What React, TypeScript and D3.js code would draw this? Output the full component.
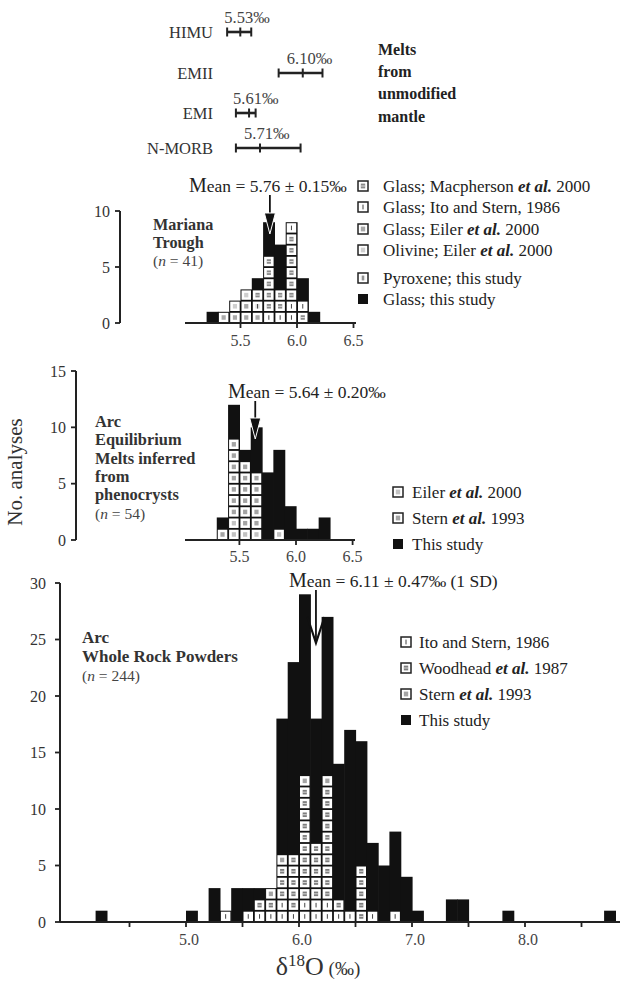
import React from 'react';
import * as d3 from 'd3';

const FONT = "'Liberation Serif', 'Times New Roman', Times, serif";

// ---------- Melts from unmodified mantle ----------
const mantleNames = ['HIMU', 'EMII', 'EMI', 'N-MORB'];
const mantleMeans = [5.53, 6.10, 5.61, 5.71];
const mantleLow = [5.41, 5.88, 5.49, 5.49];
const mantleHigh = [5.63, 6.28, 5.67, 6.08];

// ---------- Mariana Trough (n = 41) ----------
const marBins = [5.2, 5.3, 5.4, 5.5, 5.6, 5.7, 5.8, 5.9, 6.0, 6.1];
const marTotals = [1, 1, 2, 3, 4, 9, 7, 9, 4, 1];
// stacked non-"this study" cells, bottom-up: M Macpherson, I Ito&Stern, G Eiler glass, O Eiler olivine, P pyroxene
const marCells = ['', 'G', 'GO', 'GGO', 'GPM', 'IMMMMM', 'IMM', 'IIMMMMMMI', 'MI', ''];
const marMean = 5.76;

// ---------- Arc equilibrium melts (n = 54) ----------
const arcBins = [5.3, 5.4, 5.5, 5.6, 5.7, 5.8, 5.9, 6.0, 6.1, 6.2];
const arcTotals = [2, 12, 8, 10, 6, 8, 3, 1, 1, 2];
// E Eiler et al. 2000, S Stern et al. 1993
const arcCells = ['S', 'EESSSSSSS', 'ESSSSSS', 'ESSSSS', '', 'E', '', '', '', ''];
const arcMean = 5.64;

// ---------- Arc whole rock powders (n = 244) ----------
const wrBins = [4.2, 5.0, 5.2, 5.3, 5.4, 5.5, 5.6, 5.7, 5.8, 5.9, 6.0, 6.1, 6.2, 6.3, 6.4, 6.5, 6.6, 6.7, 6.8, 6.9, 7.0, 7.3, 7.4, 7.8, 8.7];
const wrTotals = [1, 1, 3, 1, 3, 3, 3, 3, 18, 23, 29, 18, 27, 14, 17, 16, 7, 5, 8, 4, 1, 2, 2, 1, 1];
// I Ito & Stern 1986, W Woodhead et al. 1987, S Stern et al. 1993
const wrCells = ['', '', '', 'I', '', 'I', 'IW', 'IWS', 'IIWWWS', 'IWWWWW', 'IIWWWWWWWWWWS', 'IIWWWWW', 'IIWWWWWWWWWWS', 'IW', 'I', 'WWWWW', 'I', '', 'I', '', '', '', '', '', ''];
const wrArrowAt = 6.15; // drawn position of mean arrow
const wrMeanLabel = 'ean = 6.11 ± 0.47‰ (1 SD)';

// tick labels
const smallTicks = [5.5, 6.0, 6.5];
const botLabelTicks = [5.0, 6.0, 7.0, 8.0];
const botMinorTicks = [4.5, 5.0, 5.5, 6.0, 6.5, 7.0, 7.5, 8.0, 8.5];
const marYTicks = [0, 5, 10];
const arcYTicks = [0, 5, 10, 15];
const wrYTicks = [0, 5, 10, 15, 20, 25, 30];

// legends
const marLegend = [
  { t: 'M', label: 'Glass; Macpherson et al. 2000' },
  { t: 'I', label: 'Glass; Ito and Stern, 1986' },
  { t: 'G', label: 'Glass; Eiler et al. 2000' },
  { t: 'O', label: 'Olivine; Eiler et al. 2000' },
  { t: 'P', label: 'Pyroxene; this study' },
  { t: 'B', label: 'Glass; this study' },
];
const arcLegend = [
  { t: 'E', label: 'Eiler et al. 2000' },
  { t: 'S', label: 'Stern et al. 1993' },
  { t: 'B', label: 'This study' },
];
const wrLegend = [
  { t: 'I', label: 'Ito and Stern, 1986' },
  { t: 'W', label: 'Woodhead et al. 1987' },
  { t: 'S', label: 'Stern et al. 1993' },
  { t: 'B', label: 'This study' },
];

const innerFill: Record<string, string> = {
  M: '#8a8a8a', I: '#ffffff', G: '#a9a9a9', O: '#cfcfcf', P: '#dcdcdc', E: '#c2c2c2', S: '#a4a4a4', W: '#7d7d7d',
};

function Glyph({ t, x, y, w, h }: { t: string; x: number; y: number; w: number; h: number }) {
  const ix = x + w * 0.28, iy = y + h * 0.26, iw = w * 0.44, ih = h * 0.48;
  const parts: any[] = [];
  parts.push(<rect key="i" x={ix} y={iy} width={iw} height={ih} fill={innerFill[t]} />);
  if (t === 'I' || t === 'P') {
    parts.push(<line key="l" x1={x + w / 2} x2={x + w / 2} y1={iy} y2={iy + ih} stroke="#444" strokeWidth={1} />);
  }
  if (t === 'W' || t === 'M') {
    parts.push(<line key="l2" x1={ix} x2={ix + iw} y1={iy + ih / 2} y2={iy + ih / 2} stroke="#fff" strokeWidth={0.7} />);
  }
  return <g>{parts}</g>;
}

function renderLabel(label: string) {
  const idx = label.indexOf('et al.');
  if (idx < 0) return label;
  return (
    <>
      {label.slice(0, idx)}
      <tspan fontStyle="italic" fontWeight="bold">et al.</tspan>
      {label.slice(idx + 6)}
    </>
  );
}

function Legend({ items, x, ys, tx, size }: { items: { t: string; label: string }[]; x: number; ys: number[]; tx: number; size: number }) {
  return (
    <g>
      {items.map((it, i) => {
        const yc = ys[i];
        return (
          <g key={i}>
            {it.t === 'B' ? (
              <rect x={x} y={yc - 5} width={10} height={10} fill="#111" />
            ) : (
              <g>
                <rect x={x} y={yc - 5} width={10} height={10} fill="#fff" stroke="#222" strokeWidth={1.5} />
                <Glyph t={it.t} x={x} y={yc - 5} w={10} h={10} />
              </g>
            )}
            <text x={tx} y={yc + 5.5} fontSize={size} fontFamily={FONT} fill="#222">
              {renderLabel(it.label)}
            </text>
          </g>
        );
      })}
    </g>
  );
}

function Hist({ bins, totals, cells, x, y }: { bins: number[]; totals: number[]; cells: string[]; x: d3.ScaleLinear<number, number>; y: d3.ScaleLinear<number, number> }) {
  const h = y(0) - y(1);
  return (
    <g>
      {bins.map((b, i) => (
        <rect key={'b' + i} x={x(b)} y={y(totals[i])} width={x(b + 0.1) - x(b) + 0.6} height={y(0) - y(totals[i])} fill="#111" />
      ))}
      {bins.map((b, i) =>
        cells[i].split('').filter(Boolean).map((t, k) => {
          const x0 = x(b), w = x(b + 0.1) - x(b);
          const y0 = y(k + 1);
          return (
            <g key={'c' + i + '-' + k}>
              <rect x={x0 + 1} y={y0 + 1} width={w - 1.8} height={h - 1.8} fill="#fff" />
              <Glyph t={t} x={x0 + 1} y={y0 + 1} w={w - 1.8} h={h - 1.8} />
            </g>
          );
        })
      )}
    </g>
  );
}

function YAxis({ y, ticks, x, labelX, top }: { y: d3.ScaleLinear<number, number>; ticks: number[]; x: number; labelX: number; top: number }) {
  return (
    <g>
      <line x1={x} x2={x} y1={top} y2={y(0)} stroke="#222" strokeWidth={2} />
      {ticks.map((t) => (
        <g key={t}>
          <line x1={x - 5} x2={x} y1={y(t)} y2={y(t)} stroke="#222" strokeWidth={1.8} />
          <text x={labelX} y={y(t) + 5.5} textAnchor="end" fontSize={16} fontFamily={FONT} fill="#333">{t}</text>
        </g>
      ))}
    </g>
  );
}

function SmallXAxis({ x, y0, x1, x2, labelY }: { x: d3.ScaleLinear<number, number>; y0: number; x1: number; x2: number; labelY: number }) {
  return (
    <g>
      <line x1={x1} x2={x2} y1={y0} y2={y0} stroke="#222" strokeWidth={2} />
      {smallTicks.map((t) => (
        <g key={t}>
          <line x1={x(t)} x2={x(t)} y1={y0} y2={y0 + 5} stroke="#222" strokeWidth={1.8} />
          <text x={x(t)} y={labelY} textAnchor="middle" fontSize={16} fontFamily={FONT} fill="#444">{t.toFixed(1)}</text>
        </g>
      ))}
    </g>
  );
}

function FilledArrow({ x, yTop, yTip }: { x: number; yTop: number; yTip: number }) {
  const headH = 21;
  return (
    <g>
      <line x1={x} x2={x} y1={yTop} y2={yTip - headH + 2} stroke="#111" strokeWidth={1.8} />
      <path d={`M${x - 5.5},${yTip - headH} L${x + 5.5},${yTip - headH} L${x},${yTip} Z`} fill="#111" stroke="#fff" strokeWidth={1} />
    </g>
  );
}

export default function App() {
  // scales
  const xMantle = d3.scaleLinear().domain([5.5, 6.0]).range([237, 291.8]);
  const xMar = d3.scaleLinear().domain([5.5, 6.0]).range([240.5, 297]);
  const yMar = d3.scaleLinear().domain([0, 10]).range([323, 211]);
  const xArc = d3.scaleLinear().domain([5.5, 6.0]).range([239.4, 296]);
  const yArc = d3.scaleLinear().domain([0, 15]).range([540, 371]);
  const xWr = d3.scaleLinear().domain([5.0, 6.0]).range([186, 299]);
  const yWr = d3.scaleLinear().domain([0, 30]).range([922, 583]);

  const mantleRowY = [32, 73, 113, 148];

  return (
    <svg width={620} height={981} style={{ position: 'absolute', left: 0, top: 0, background: '#fff' }} fontFamily={FONT}>
      <rect x={0} y={0} width={620} height={981} fill="#fff" />

      {/* ---- Mantle error bars ---- */}
      {mantleNames.map((n, i) => {
        const yy = mantleRowY[i];
        const xl = xMantle(mantleLow[i]), xh = xMantle(mantleHigh[i]), xm = xMantle(mantleMeans[i]);
        return (
          <g key={n}>
            <text x={213} y={yy + 6} textAnchor="end" fontSize={16.5} fill="#333">{n}</text>
            <line x1={xl} x2={xh} y1={yy} y2={yy} stroke="#222" strokeWidth={2.6} />
            {[xl, xm, xh].map((xv, k) => (
              <line key={k} x1={xv} x2={xv} y1={yy - 4.5} y2={yy + 4.5} stroke="#222" strokeWidth={2} />
            ))}
            <text x={xm - 16} y={yy - 9} fontSize={16.5} fill="#444">{mantleMeans[i].toFixed(2)}‰</text>
          </g>
        );
      })}
      <g fontSize={16} fontWeight="bold" fill="#222">
        <text x={378} y={55}>Melts</text>
        <text x={378} y={77}>from</text>
        <text x={378} y={99}>unmodified</text>
        <text x={378} y={122}>mantle</text>
      </g>

      {/* ---- Mariana Trough ---- */}
      <YAxis y={yMar} ticks={marYTicks} x={120} labelX={110} top={yMar(10)} />
      <Hist bins={marBins} totals={marTotals} cells={marCells} x={xMar} y={yMar} />
      <SmallXAxis x={xMar} y0={yMar(0)} x1={185} x2={356} labelY={346} />
      <text x={189} y={192} fontSize={17.5} fill="#222"><tspan fontSize={20}>M</tspan>ean = 5.76 ± 0.15‰</text>
      <FilledArrow x={xMar(marMean)} yTop={195} yTip={234} />
      <text x={153} y={230} fontSize={16.2} fontWeight="bold" fill="#333">Mariana</text>
      <text x={153} y={248} fontSize={16.2} fontWeight="bold" fill="#333">Trough</text>
      <text x={153} y={266} fontSize={15.5} fill="#444">(<tspan fontStyle="italic">n</tspan> = 41)</text>
      <Legend items={marLegend} x={358} ys={[186, 207, 229, 250, 278, 299]} tx={383} size={17} />

      {/* ---- Arc equilibrium melts ---- */}
      <YAxis y={yArc} ticks={arcYTicks} x={76} labelX={66} top={yArc(15)} />
      <Hist bins={arcBins} totals={arcTotals} cells={arcCells} x={xArc} y={yArc} />
      <SmallXAxis x={xArc} y0={yArc(0)} x1={185} x2={355} labelY={562} />
      <text x={228} y={398} fontSize={17.5} fill="#222"><tspan fontSize={20}>M</tspan>ean = 5.64 ± 0.20‰</text>
      <FilledArrow x={xArc(arcMean)} yTop={401} yTip={439} />
      <g fontSize={16.4} fontWeight="bold" fill="#333">
        <text x={95} y={427}>Arc</text>
        <text x={95} y={445.3}>Equilibrium</text>
        <text x={95} y={463.6}>Melts inferred</text>
        <text x={95} y={481.9}>from</text>
        <text x={95} y={500.2}>phenocrysts</text>
      </g>
      <text x={95} y={519} fontSize={15.5} fill="#444">(<tspan fontStyle="italic">n</tspan> = 54)</text>
      <Legend items={arcLegend} x={393} ys={[492, 518, 544]} tx={412} size={17} />

      {/* ---- Arc whole rock powders ---- */}
      <text x={22} y={472} transform="rotate(-90 22 472)" textAnchor="middle" fontSize={21} fill="#333">No. analyses</text>
      <YAxis y={yWr} ticks={wrYTicks} x={60} labelX={46} top={yWr(30)} />
      <Hist bins={wrBins} totals={wrTotals} cells={wrCells} x={xWr} y={yWr} />
      <line x1={60} x2={620} y1={yWr(0)} y2={yWr(0)} stroke="#222" strokeWidth={2} />
      {botMinorTicks.map((t) => (
        <line key={t} x1={xWr(t)} x2={xWr(t)} y1={yWr(0)} y2={yWr(0) + 5} stroke="#222" strokeWidth={1.8} />
      ))}
      {botLabelTicks.map((t) => (
        <text key={t} x={xWr(t) + 3} y={945} textAnchor="middle" fontSize={16} fill="#444">{t.toFixed(1)}</text>
      ))}
      <text x={318} y={975} textAnchor="middle" fill="#333">
        <tspan fontSize={26}>δ</tspan>
        <tspan fontSize={17} dy={-9}>18</tspan>
        <tspan fontSize={26} dy={9}>O</tspan>
        <tspan fontSize={19}> (‰)</tspan>
      </text>
      <text x={289} y={587} fontSize={17.5} fill="#222"><tspan fontSize={20}>M</tspan>{wrMeanLabel}</text>
      {(() => {
        const ax = xWr(wrArrowAt);
        return (
          <g>
            <line x1={ax} x2={ax} y1={590} y2={643} stroke="#111" strokeWidth={1.8} />
            <path d={`M${ax - 8.5},${617} L${ax},${643} L${ax + 8.5},${617}`} fill="none" stroke="#111" strokeWidth={2.2} />
          </g>
        );
      })()}
      <text x={82} y={643} fontSize={17} fontWeight="bold" fill="#333">Arc</text>
      <text x={82} y={662} fontSize={17} fontWeight="bold" fill="#333">Whole Rock Powders</text>
      <text x={82} y={681} fontSize={15.5} fill="#444">(<tspan fontStyle="italic">n</tspan> = 244)</text>
      <Legend items={wrLegend} x={401} ys={[642, 668, 694, 720]} tx={419} size={17} />
    </svg>
  );
}
